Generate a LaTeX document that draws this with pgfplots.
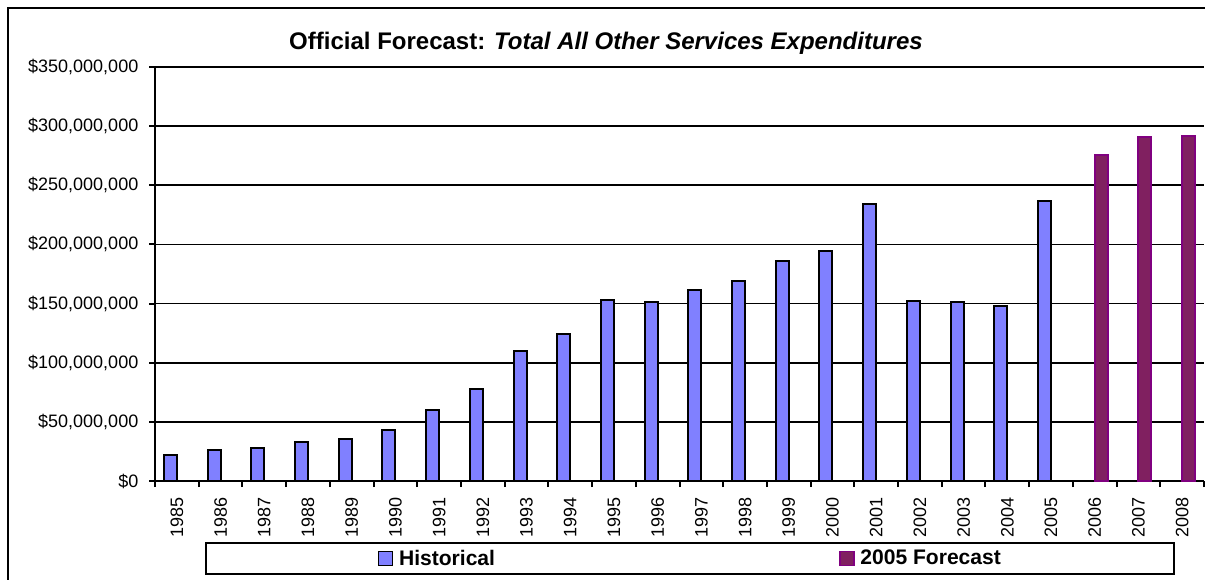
\documentclass[border=0pt]{standalone}
\usepackage{pgfplots}
\pgfplotsset{compat=1.18}
\usepackage{fontspec}
\setmainfont{Liberation Sans}
\definecolor{hist}{RGB}{128,128,255}
\definecolor{fcfill}{RGB}{128,32,96}
\definecolor{fcdraw}{RGB}{128,0,128}
\begin{document}
\begin{tikzpicture}
% outer frame (extends past the page)
\draw[line width=1.5pt] (6pt,-1000pt) -- (6pt,-6pt) -- (2000pt,-6pt);
\node[font=\fontsize{18}{21}\selectfont\bfseries] at (454.5pt,-32.25pt)
  {Official Forecast: \textit{Total All Other Services Expenditures}};
\begin{axis}[
  at={(116.25pt,-360.75pt)}, anchor=south west,
  scale only axis, width=786.75pt, height=310.5pt,
  xmin=-0.5, xmax=23.5, ymin=0, ymax=350,
  axis x line*=bottom, axis y line*=left,
  axis line style={line width=1.5pt, -},
  tick align=outside,
  major tick length=4.5pt, minor tick length=4.5pt,
  xtick={0,...,23},
  xticklabels={1985,1986,1987,1988,1989,1990,1991,1992,1993,1994,1995,1996,1997,1998,1999,2000,2001,2002,2003,2004,2005,2006,2007,2008},
  major x tick style={draw=none},
  minor xtick={-0.5,0.5,...,23.5},
  minor x tick style={draw=black, line width=1.5pt},
  ytick={0,50,...,350},
  yticklabels={{\$0},{\$50,000,000},{\$100,000,000},{\$150,000,000},{\$200,000,000},{\$250,000,000},{\$300,000,000},{\$350,000,000}},
  scaled y ticks=false,
  ytick style={line width=1.5pt, black},
  tick label style={font=\fontsize{13.5}{16}\selectfont},
  xticklabel style={rotate=90, anchor=east},
  xticklabel shift=4pt,
  yticklabel shift=4.5pt,
  ymajorgrids,
  grid style={line width=1.2pt, black},
  ybar,
  clip=false,
  legend columns=2,
  legend style={at={(0.510,-0.187)}, anchor=center, draw=black, line width=1.5pt,
    inner xsep=127.5pt, inner ysep=3pt,
    font=\fontsize{15.8}{18}\selectfont\bfseries,
    /tikz/every even column/.append style={column sep=255pt}},
  legend image code/.code={\draw[#1, line width=1.2pt] (1.5pt,-5.25pt) rectangle (12pt,5.25pt);
    \path[draw=none,fill=none] (0pt,0pt) -- (15pt,0pt);},
]
\addplot[fill=hist, draw=black, line width=1.5pt, bar width=9.75pt, bar shift=-4.875pt] coordinates {
(0,22.0) (1,25.9) (2,28.1) (3,33.2) (4,35.5) (5,42.8) (6,60.2) (7,77.4)
(8,109.5) (9,124.2) (10,152.9) (11,151.5) (12,161.3) (13,169.5) (14,186.1)
(15,194.3) (16,234.5) (17,152.3) (18,151.2) (19,147.8) (20,236.5)};
\addlegendentry{Historical}
\addplot[fill=fcfill, draw=fcdraw, line width=1.5pt, bar width=9.75pt, bar shift=4.875pt] coordinates {
(21,276) (22,291) (23,292)};
\addlegendentry{2005 Forecast}
\end{axis}
\pgfresetboundingbox
\useasboundingbox (0pt,0pt) rectangle (903.75pt,-435pt);
\end{tikzpicture}
\end{document}
